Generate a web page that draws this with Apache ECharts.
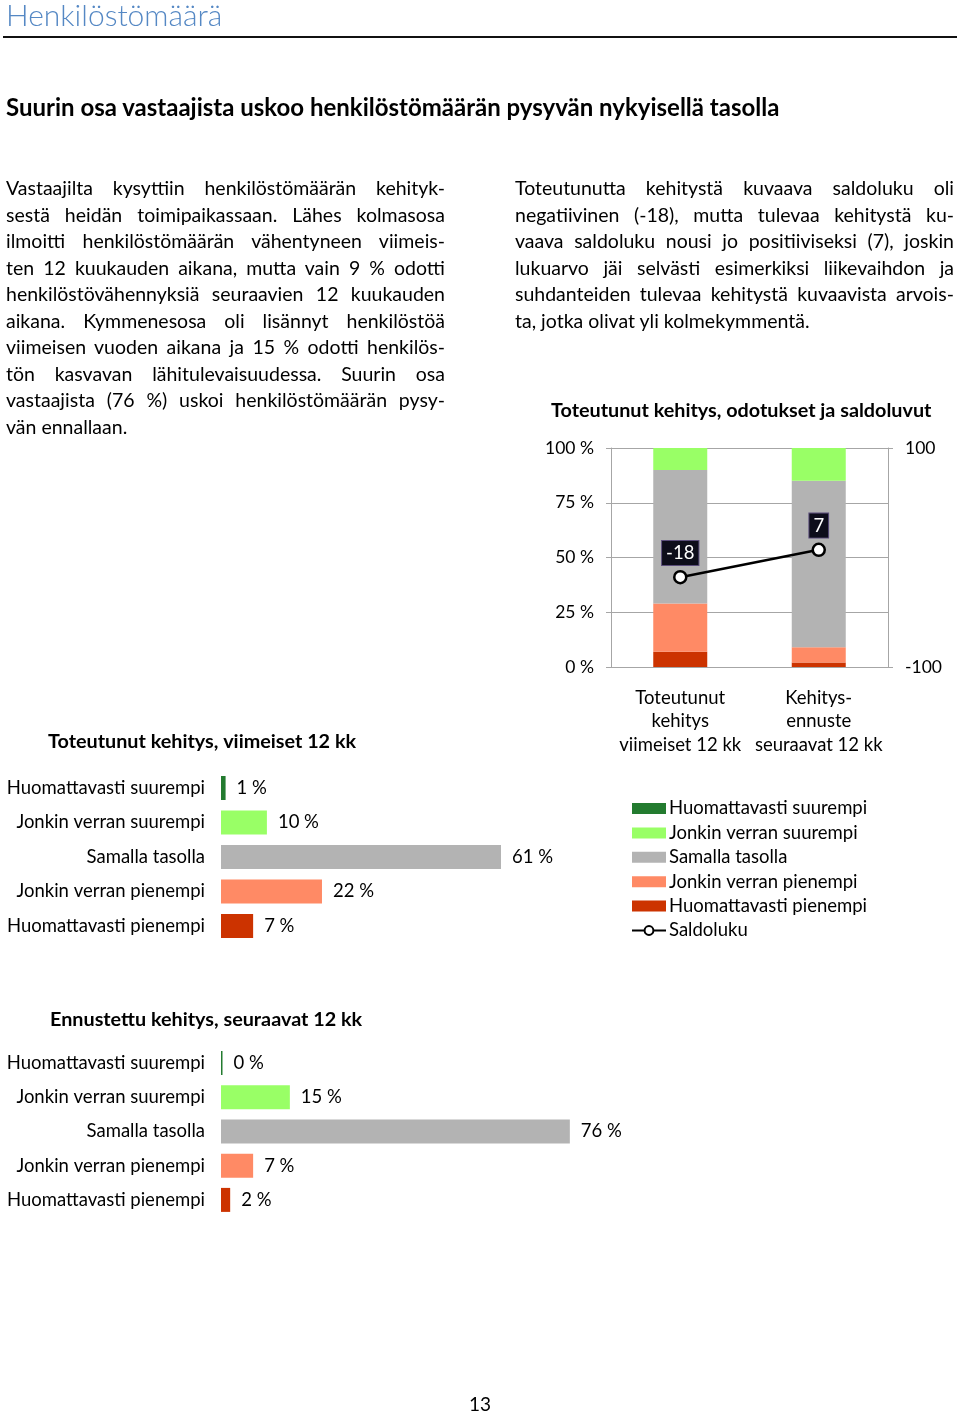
<!DOCTYPE html>
<html><head><meta charset="utf-8">
<script src="https://cdn.jsdelivr.net/npm/echarts@6/dist/echarts.min.js"></script>
<style>
html,body{margin:0;padding:0;background:#fff;}
body{width:960px;height:1414px;position:relative;overflow:hidden;font-family:Lato,"Open Sans",sans-serif;color:#000;}
#chart{position:absolute;left:0;top:0;width:960px;height:1414px;}
.t{position:absolute;white-space:nowrap;}
.col{position:absolute;width:439px;font-size:19.5px;line-height:26.5px;}
.col div{text-align:justify;text-align-last:justify;height:26.5px;overflow:visible;}
.col div.last{text-align-last:left;}
</style></head>
<body>
<div id="chart"></div>
<div class="t" style="left:6px;top:-4px;font-size:30px;font-weight:300;color:#5588c4;">Henkilöstömäärä</div>
<div style="position:absolute;left:3px;top:36px;width:954px;height:2px;background:#111;"></div>
<div class="t" style="left:6px;top:92px;font-size:24px;font-weight:700;">Suurin osa vastaajista uskoo henkilöstömäärän pysyvän nykyisellä tasolla</div>
<div class="col" style="left:6px;top:175px;">
<div>Vastaajilta kysyttiin henkilöstömäärän kehityk-</div>
<div>sestä heidän toimipaikassaan. Lähes kolmasosa</div>
<div>ilmoitti henkilöstömäärän vähentyneen viimeis-</div>
<div>ten 12 kuukauden aikana, mutta vain 9 % odotti</div>
<div>henkilöstövähennyksiä seuraavien 12 kuukauden</div>
<div>aikana. Kymmenesosa oli lisännyt henkilöstöä</div>
<div>viimeisen vuoden aikana ja 15 % odotti henkilös-</div>
<div>tön kasvavan lähitulevaisuudessa. Suurin osa</div>
<div>vastaajista (76 %) uskoi henkilöstömäärän pysy-</div>
<div class="last">vän ennallaan.</div>
</div>
<div class="col" style="left:515px;top:175px;">
<div>Toteutunutta kehitystä kuvaava saldoluku oli</div>
<div>negatiivinen (-18), mutta tulevaa kehitystä ku-</div>
<div>vaava saldoluku nousi jo positiiviseksi (7), joskin</div>
<div>lukuarvo jäi selvästi esimerkiksi liikevaihdon ja</div>
<div>suhdanteiden tulevaa kehitystä kuvaavista arvois-</div>
<div class="last">ta, jotka olivat yli kolmekymmentä.</div>
</div>
<div class="t" style="left:469px;top:1392px;font-size:19px;">13</div>
<script>
// ---- data ----
const levels = ['Huomattavasti suurempi','Jonkin verran suurempi','Samalla tasolla','Jonkin verran pienempi','Huomattavasti pienempi'];
const past12 = [1, 10, 61, 22, 7];
const next12 = [0, 15, 76, 7, 2];
const periods = ['Toteutunut\nkehitys\nviimeiset 12 kk', 'Kehitys-\nennuste\nseuraavat 12 kk'];
const saldo = [-18, 7];
const saldoName = 'Saldoluku';
const titles = ['Toteutunut kehitys, odotukset ja saldoluvut','Toteutunut kehitys, viimeiset 12 kk','Ennustettu kehitys, seuraavat 12 kk'];

// ---- style ----
const colors = ['#237b2f','#99ff66','#b3b3b3','#ff8a65','#cc3300'];
const FONT = 'Lato, "Open Sans", sans-serif';
const gridGray = '#a6a6a6';
const FS = 18.5;
const FSB = 19.8;

const chart = echarts.init(document.getElementById('chart'), null, {renderer:'canvas'});

const stackSeries = [];
for (let i = levels.length - 1; i >= 0; i--) {
  stackSeries.push({
    name: levels[i], type: 'bar', stack: 'tot', xAxisIndex: 0, yAxisIndex: 0,
    barWidth: 54, clip: true,
    itemStyle: {color: colors[i]},
    data: [past12[i], next12[i]]
  });
}

function hbar(values, idx) {
  return {
    name: 'h' + idx, type: 'bar', xAxisIndex: idx, yAxisIndex: idx,
    barWidth: 24, barMinHeight: 1.5,
    data: values.map((v, i) => ({value: v, itemStyle: {color: colors[i]}})),
    label: {show: true, position: 'right', distance: 11, formatter: '{c} %', fontSize: FS, fontFamily: FONT, color: '#000'}
  };
}

const catAxisStyle = {
  type: 'category', data: levels, inverse: true,
  axisLine: {show: false}, axisTick: {show: false},
  axisLabel: {fontSize: FS, fontFamily: FONT, color: '#000', margin: 16}
};

chart.setOption({
  animation: false,
  textStyle: {fontFamily: FONT},
  title: [
    {text: titles[0], left: 551, top: 400.5, padding: 0, textStyle: {fontSize: FSB, fontWeight: 'bold', color: '#000', fontFamily: FONT}},
    {text: titles[1], left: 48, top: 731.5, padding: 0, textStyle: {fontSize: FSB, fontWeight: 'bold', color: '#000', fontFamily: FONT}},
    {text: titles[2], left: 50, top: 1009.5, padding: 0, textStyle: {fontSize: FSB, fontWeight: 'bold', color: '#000', fontFamily: FONT}}
  ],
  legend: {
    orient: 'vertical', left: 631, top: 799, padding: 0,
    itemWidth: 34, itemHeight: 11, itemGap: 5.4,
    data: levels.map(n => ({name: n, icon: 'rect'})).concat([{name: saldoName}]),
    textStyle: {fontSize: FS, fontFamily: FONT, color: '#000', lineHeight: 19, padding: [0,0,0,-2]},
    selectedMode: false
  },
  grid: [
    {left: 611, top: 448, width: 277, height: 219},
    {left: 221, top: 770.75, width: 459, height: 172.5},
    {left: 221, top: 1046, width: 459, height: 171}
  ],
  xAxis: [
    {type: 'category', gridIndex: 0, data: periods,
     axisLine: {show: true, lineStyle: {color: gridGray, width: 1}}, axisTick: {show: false},
     axisLabel: {interval: 0, fontSize: FS, fontFamily: FONT, color: '#000', lineHeight: 23.5, margin: 19}},
    {type: 'value', gridIndex: 1, min: 0, max: 100, show: false},
    {type: 'value', gridIndex: 2, min: 0, max: 100, show: false}
  ],
  yAxis: [
    {type: 'value', gridIndex: 0, min: 0, max: 100, interval: 25,
     axisLine: {show: true, lineStyle: {color: gridGray}},
     axisTick: {show: true, length: 5, lineStyle: {color: gridGray}},
     splitLine: {show: true, lineStyle: {color: gridGray, width: 1}},
     axisLabel: {formatter: '{value} %', fontSize: 17.5, fontFamily: FONT, color: '#000', margin: 17}},
    Object.assign({gridIndex: 1}, catAxisStyle),
    Object.assign({gridIndex: 2}, catAxisStyle),
    {type: 'value', gridIndex: 0, position: 'right', min: -100, max: 100, interval: 200,
     axisLine: {show: true, lineStyle: {color: gridGray}},
     axisTick: {show: true, length: 5, lineStyle: {color: gridGray}},
     splitLine: {show: false},
     axisLabel: {fontSize: 17.5, fontFamily: FONT, color: '#000', margin: 17}}
  ],
  series: stackSeries.concat([
    {name: saldoName, type: 'line', xAxisIndex: 0, yAxisIndex: 3, data: saldo,
     symbol: 'circle', symbolSize: 12,
     lineStyle: {color: '#000', width: 2.5},
     itemStyle: {color: '#fff', borderColor: '#000', borderWidth: 2.5},
     label: {show: true, position: 'top', distance: 5, fontSize: FS, fontFamily: FONT, color: '#fff',
             backgroundColor: '#0d0d1a', borderColor: '#5a4d7a', borderWidth: 1, padding: [3, 4, 2, 4]},
     z: 5},
    hbar(past12, 1),
    hbar(next12, 2)
  ])
});
</script>
</body></html>
